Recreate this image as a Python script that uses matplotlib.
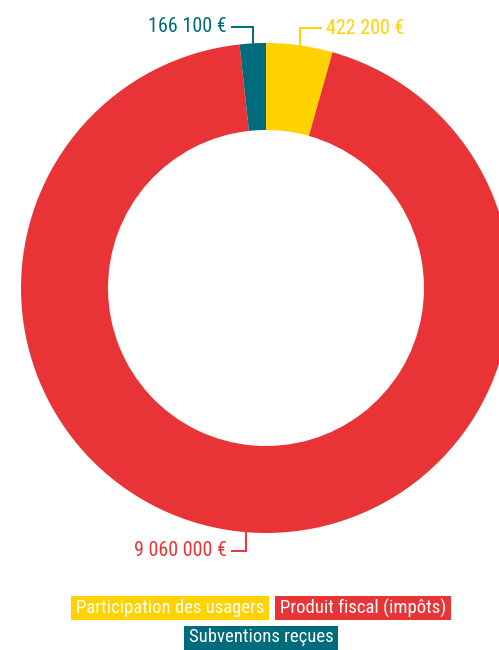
import matplotlib
matplotlib.use("Agg")
import matplotlib.pyplot as plt
from matplotlib import font_manager
import numpy as np

# Budget data
categories = ["Participation des usagers", "Produit fiscal (impôts)", "Subventions reçues"]
values = [422200, 9060000, 166100]
value_labels = ["422 200 €", "9 060 000 €", "166 100 €"]
colors = ["#FFD200", "#E93437", "#006B7A"]

available = {f.name for f in font_manager.fontManager.ttflist}
family = "DejaVu Sans"
for cand in ["Roboto Condensed", "Liberation Sans Narrow", "Open Sans Condensed", "DejaVu Sans Condensed", "Roboto"]:
    if cand in available:
        family = cand
        break
plt.rcParams["font.family"] = [family, "DejaVu Sans"]

W, H = 499, 650
fig = plt.figure(figsize=(W / 100, H / 100), dpi=100)
ax = fig.add_axes([0, 0, 1, 1])

cx, cy = 266, H - 288
R = 245
ring = 87

wedges, _ = ax.pie(values, colors=colors, startangle=90, counterclock=False,
                   radius=R, center=(cx, cy),
                   wedgeprops=dict(width=ring, linewidth=0))

ax.set_xlim(0, W)
ax.set_ylim(0, H)
ax.set_aspect("equal")
ax.axis("off")

# leader lines: (label y in px, horizontal direction, horizontal run)
leaders = [(28, 1, 21), (551, -1, 14), (27, -1, 21)]
for w, lab, col, (ly, d, run) in zip(wedges, value_labels, colors, leaders):
    mid = np.deg2rad((w.theta1 + w.theta2) / 2)
    ax_x = cx + R * np.cos(mid)
    ax_y = cy + R * np.sin(mid)
    ty = H - ly
    ex = ax_x + d * run
    ax.plot([ax_x, ax_x, ex], [ax_y, ty, ty], color=col, lw=1.4,
            solid_joinstyle="miter", clip_on=False)
    ax.text(ex + d * 5, ty, lab, color=col, fontsize=14.5,
            ha="left" if d > 0 else "right", va="center")

# legend: coloured boxes with white labels, two rows centred on the chart
rows = [[0, 1], [2]]
row_y = [H - 608, H - 637.5]
pad_x, gap, box_h = 5, 6, 24
legend_center = 261
renderer = fig.canvas.get_renderer()
for row, yy in zip(rows, row_y):
    texts = [ax.text(0, yy, categories[i], color="white", fontsize=13.5,
                     ha="center", va="center") for i in row]
    widths = [t.get_window_extent(renderer).width + 2 * pad_x for t in texts]
    total = sum(widths) + gap * (len(widths) - 1)
    x0 = legend_center - total / 2
    for t, wd, i in zip(texts, widths, row):
        ax.add_patch(plt.Rectangle((x0, yy - box_h / 2), wd, box_h,
                                   fc=colors[i], ec="none", zorder=1))
        t.set_x(x0 + wd / 2)
        t.set_zorder(2)
        x0 += wd + gap

fig.savefig("out.png", dpi=100)
